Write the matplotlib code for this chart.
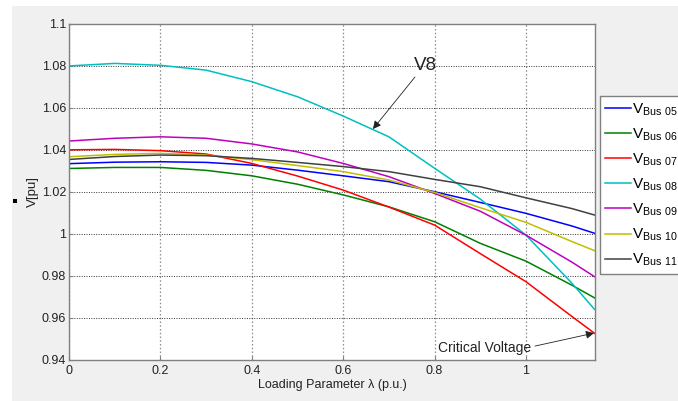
import matplotlib
matplotlib.use("Agg")
import matplotlib.pyplot as plt
from matplotlib.patches import Rectangle

plt.rcParams['font.family'] = ['Liberation Sans', 'DejaVu Sans']
plt.rcParams['mathtext.fontset'] = 'custom'
plt.rcParams['mathtext.rm'] = 'Liberation Sans'

# loading parameter (p.u.) and bus voltages
lam = [0.0, 0.1, 0.2, 0.3, 0.4, 0.5, 0.6, 0.7, 0.8, 0.9, 1.0, 1.1, 1.15]
v_bus05 = [1.0334, 1.0341, 1.0343, 1.0340, 1.0327, 1.0303, 1.0276, 1.0248, 1.0200, 1.0149, 1.0097, 1.0037, 1.0002]
v_bus06 = [1.0311, 1.0316, 1.0316, 1.0302, 1.0276, 1.0236, 1.0185, 1.0128, 1.0057, 0.9954, 0.9869, 0.9755, 0.9694]
v_bus07 = [1.0400, 1.0402, 1.0396, 1.0380, 1.0335, 1.0275, 1.0208, 1.0127, 1.0041, 0.9905, 0.9771, 0.9606, 0.9525]
v_bus08 = [1.0800, 1.0812, 1.0803, 1.0780, 1.0725, 1.0653, 1.0561, 1.0462, 1.0312, 1.0165, 0.9993, 0.9765, 0.9639]
v_bus09 = [1.0442, 1.0455, 1.0462, 1.0455, 1.0428, 1.0390, 1.0335, 1.0272, 1.0192, 1.0107, 0.9993, 0.9865, 0.9795]
v_bus10 = [1.0367, 1.0378, 1.0383, 1.0375, 1.0353, 1.0325, 1.0296, 1.0256, 1.0197, 1.0124, 1.0054, 0.9963, 0.9919]
v_bus11 = [1.0354, 1.0368, 1.0375, 1.0372, 1.0359, 1.0340, 1.0320, 1.0296, 1.0259, 1.0224, 1.0171, 1.0120, 1.0089]

series = [v_bus05, v_bus06, v_bus07, v_bus08, v_bus09, v_bus10, v_bus11]
labels = [r'$\mathregular{V_{Bus\ 05}}$', r'$\mathregular{V_{Bus\ 06}}$', r'$\mathregular{V_{Bus\ 07}}$',
          r'$\mathregular{V_{Bus\ 08}}$', r'$\mathregular{V_{Bus\ 09}}$', r'$\mathregular{V_{Bus\ 10}}$',
          r'$\mathregular{V_{Bus\ 11}}$']
colors = [(0, 0, 1), (0, 0.5, 0), (1, 0, 0), (0, 0.75, 0.75), (0.75, 0, 0.75), (0.75, 0.75, 0), (0.25, 0.25, 0.25)]

xticks = [0, 0.2, 0.4, 0.6, 0.8, 1.0]
xtick_labels = ['0', '0.2', '0.4', '0.6', '0.8', '1']
yticks = [0.94, 0.96, 0.98, 1.0, 1.02, 1.04, 1.06, 1.08, 1.1]
ytick_labels = ['0.94', '0.96', '0.98', '1', '1.02', '1.04', '1.06', '1.08', '1.1']

fig = plt.figure(figsize=(6.78, 4.01), dpi=100)
fig.patch.set_facecolor('white')
# grey panel behind the axes, like the matlab figure window
fig.patches.append(Rectangle((12 / 678, 0), 1, 1 - 6 / 401, transform=fig.transFigure,
                             facecolor='#f0f0f0', edgecolor='none', zorder=-5))
fig.patches.append(Rectangle((13.3 / 678, 1 - 202.7 / 401), 3.4 / 678, 3.4 / 401,
                             transform=fig.transFigure, facecolor='black', edgecolor='none', zorder=-4))

ax = fig.add_axes([69 / 678, 1 - 359.5 / 401, 526 / 678, 335.5 / 401])
ax.set_facecolor('white')

lines = []
for v, lab, c in zip(series, labels, colors):
    ln, = ax.plot(lam, v, color=c, lw=1.1, label=lab)
    lines.append(ln)

ax.set_xlim(0, 1.151)
ax.set_ylim(0.94, 1.1)
ax.set_xticks(xticks)
ax.set_xticklabels(xtick_labels)
ax.set_yticks(yticks)
ax.set_yticklabels(ytick_labels)
ax.tick_params(direction='in', length=3, color='#808080', labelsize=9, labelcolor='#222222')
ax.tick_params(axis='x', pad=4)
ax.tick_params(axis='y', pad=2)
for s in ax.spines.values():
    s.set_color('#808080')
    s.set_linewidth(1.0)

ax.xaxis.grid(True, color='#8c8c8c', linestyle=(0, (1.2, 1.8)), lw=0.9)
ax.yaxis.grid(True, color='#333333', linestyle=(0, (1, 1.5)), lw=0.7)

ax.set_xlabel('Loading Parameter λ (p.u.)', fontsize=9, color='#222222')
ax.xaxis.set_label_coords(0.5, -0.058)
ax.set_ylabel('V[pu]', fontsize=9.5, color='#222222')
ax.yaxis.set_label_coords(-0.058, 0.5)

# annotations
ax.text(0.779, 1.0801, 'V8', fontsize=13.5, ha='center', va='center', color='#222222')
ax.annotate('', xy=(0.665, 1.0499), xytext=(0.757, 1.0747),
            arrowprops=dict(arrowstyle='-|>', color='#222222', lw=0.6, mutation_scale=12,
                            shrinkA=0, shrinkB=0))
ax.text(0.8074, 0.9456, 'Critical Voltage', fontsize=10, ha='left', va='center', color='#222222')
ax.annotate('', xy=(1.1488, 0.9526), xytext=(1.0197, 0.9464),
            arrowprops=dict(arrowstyle='-|>', color='#222222', lw=0.6, mutation_scale=12,
                            shrinkA=0, shrinkB=0), annotation_clip=False)

leg = fig.legend(handles=lines, loc='upper left', bbox_to_anchor=(600 / 678, 1 - 96 / 401),
                 fontsize=11, frameon=True, fancybox=False, framealpha=1,
                 handlelength=1.65, handletextpad=0.1, labelspacing=0.57,
                 borderpad=0.35, borderaxespad=0)
leg.get_frame().set_edgecolor('#808080')
leg.get_frame().set_linewidth(1.0)

fig.savefig('out.png', dpi=100)
